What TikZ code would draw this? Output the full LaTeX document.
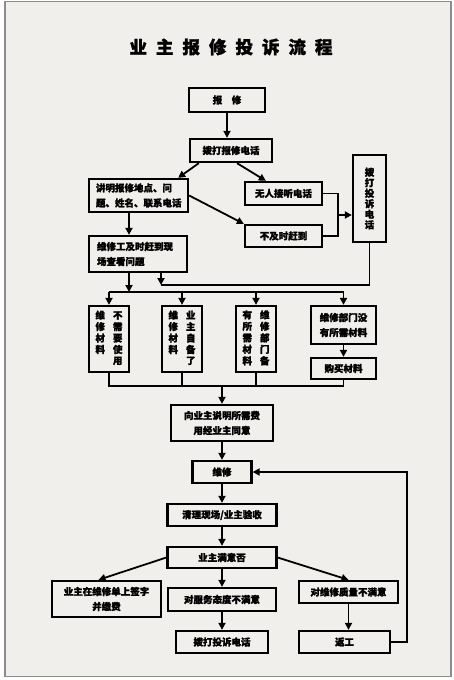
\documentclass[tikz,border=0pt]{standalone}
\usepackage{fontspec}
\newfontfamily\cjk[BoldFeatures={FakeBold=1.6}]{Noto Sans CJK SC}
\usetikzlibrary{arrows.meta,calc}
\definecolor{paper}{RGB}{240,239,235}
\newcommand\tsp{\hspace{9pt}}

\begin{document}
\begin{tikzpicture}[x=1pt, y=-1pt,
  box/.style={draw, line width=2.3pt, fill=paper, inner sep=0pt, align=center,
    font=\cjk\bfseries\fontsize{9.5}{15}\selectfont},
  sz/.style 2 args={minimum width=#1pt, minimum height=#2pt},
  vbox/.style={box, font=\cjk\bfseries\fontsize{9.5}{11}\selectfont},
  link/.style={line width=1.8pt},
  arr/.style={link, -{Triangle[length=7pt,width=7pt]}}]
  \fill[white] (0,0) rectangle (454,680);
  \draw[black!45, line width=1.5pt, fill=paper] (5,1.5) rectangle (451,676.5);
  \useasboundingbox (0,0) rectangle (454,680);

  % title
  \node (title) at (231,47) {\cjk\bfseries\fontsize{17.5}{17.5}\selectfont
    业\tsp 主\tsp 报\tsp 修\tsp 投\tsp 诉\tsp 流\tsp 程};

  % reporting
  \node[box, sz={76}{24}] (report) at (227,100) {报\hspace{1em}修};
  \node[box, sz={82}{23}] (dial) at (231,150.5) {拨打报修电话};
  \node[box, sz={99}{33}, text width=85pt, align=left] (explain) at (138.5,195.5)
    {讲明报修地点、问\\题、姓名、联系电话};
  \node[box, sz={77}{23}] (noanswer) at (283.5,193.5) {无人接听电话};
  \node[box, sz={77}{22}] (late) at (283.5,236) {不及时赶到};
  \node[box, sz={33}{87}, font=\cjk\bfseries\fontsize{9.5}{10.5}\selectfont]
    (complain1) at (369.5,198.5) {拨\\打\\投\\诉\\电\\话};
  \node[box, sz={98}{36}, text width=82pt, align=left] (arrive) at (138,254)
    {维修工及时赶到现\\场查看问题};

  % materials
  \node[vbox, sz={40}{66}] (matA) at (109,339)
    {\begin{tabular}{@{}c@{\hspace{8pt}}c@{}}维&不\\修&需\\材&要\\料&使\\&用\end{tabular}};
  \node[vbox, sz={40}{66}] (matB) at (182,339)
    {\begin{tabular}{@{}c@{\hspace{8pt}}c@{}}维&业\\修&主\\材&自\\料&备\\&了\end{tabular}};
  \node[vbox, sz={40}{66}] (matC) at (256,339)
    {\begin{tabular}{@{}c@{\hspace{8pt}}c@{}}有&维\\所&修\\需&部\\材&门\\料&备\end{tabular}};
  \node[box, sz={65}{38}] (matD) at (343.5,325) {维修部门没\\有所需材料};
  \node[box, sz={65}{21}] (buy) at (343.5,368.5) {购买材料};

  % repair
  \node[box, sz={102}{36}] (fee) at (222,423) {向业主说明所需费\\用经业主同意};
  \node[box, sz={59}{22}] (repair) at (222,472) {维修};
  \node[box, sz={109}{22}] (clean) at (222,515) {清理现场/业主验收};
  \node[box, sz={109}{21}] (satisfied) at (222,557.5) {业主满意否};
  \node[box, sz={109}{36}] (sign) at (106.5,599) {业主在维修单上签字\\并缴费};
  \node[box, sz={108}{23}] (service) at (222,599.5) {对服务态度不满意};
  \node[box, sz={92}{22}] (complain2) at (222,642) {拨打投诉电话};
  \node[box, sz={99}{22}] (quality) at (348.5,592) {对维修质量不满意};
  \node[box, sz={91}{22}] (rework) at (344.5,642) {返工};

  \coordinate (merge) at (338,215);
  \coordinate (back) at (161,285);
  \coordinate (split) at (129,292);
  \coordinate (join) at (222,386);
  \coordinate (loop) at (407,472);

  % connectors
  \draw[arr] (report.south) -- (report.south |- dial.north);
  \draw[arr] ($(dial.south west)+(10,0)$) -- ($(explain.north east)+(-11,0)$);
  \draw[arr] ($(dial.south)+(6,0)$) -- ($(noanswer.north west)+(22,0)$);
  \draw[arr] (explain.east) -- (late.north west);
  \draw[link] (noanswer.east) -| (merge) |- (late.east);
  \draw[arr] (merge) -- (complain1.west |- merge);
  \draw[arr] (explain.south -| split) -- (arrive.north -| split);
  \draw[link] (complain1.south) |- (back);
  \draw[arr] (arrive.south -| back) -- (back);
  \draw[arr] (arrive.south -| split) -- (split);
  \draw[link] (matA.north |- split) -- (matD.north |- split);
  \foreach \n in {matA,matB,matC,matD}
    \draw[arr] (\n.north |- split) -- (\n.north);
  \draw[arr] (matD.south) -- (buy.north);
  \draw[link] (matA.south) -- (matA.south |- join) -| (buy.south);
  \foreach \n in {matB,matC}
    \draw[link] (\n.south) -- (\n.south |- join);
  \draw[arr] (join) -- (fee.north);
  \draw[arr] (fee) -- (repair);
  \draw[arr] (repair) -- (clean);
  \draw[arr] (clean) -- (satisfied);
  \draw[arr] (satisfied) -- (service);
  \draw[arr] (service) -- (complain2);
  \draw[arr] (satisfied.west) -- ($(sign.north)+(-8,0)$);
  \draw[arr] (satisfied.east) -- (quality.north);
  \draw[arr] (quality.south) -- (quality.south |- rework.north);
  \draw[arr] (rework.east) -| (loop) -- (repair.east);
\end{tikzpicture}
\end{document}
